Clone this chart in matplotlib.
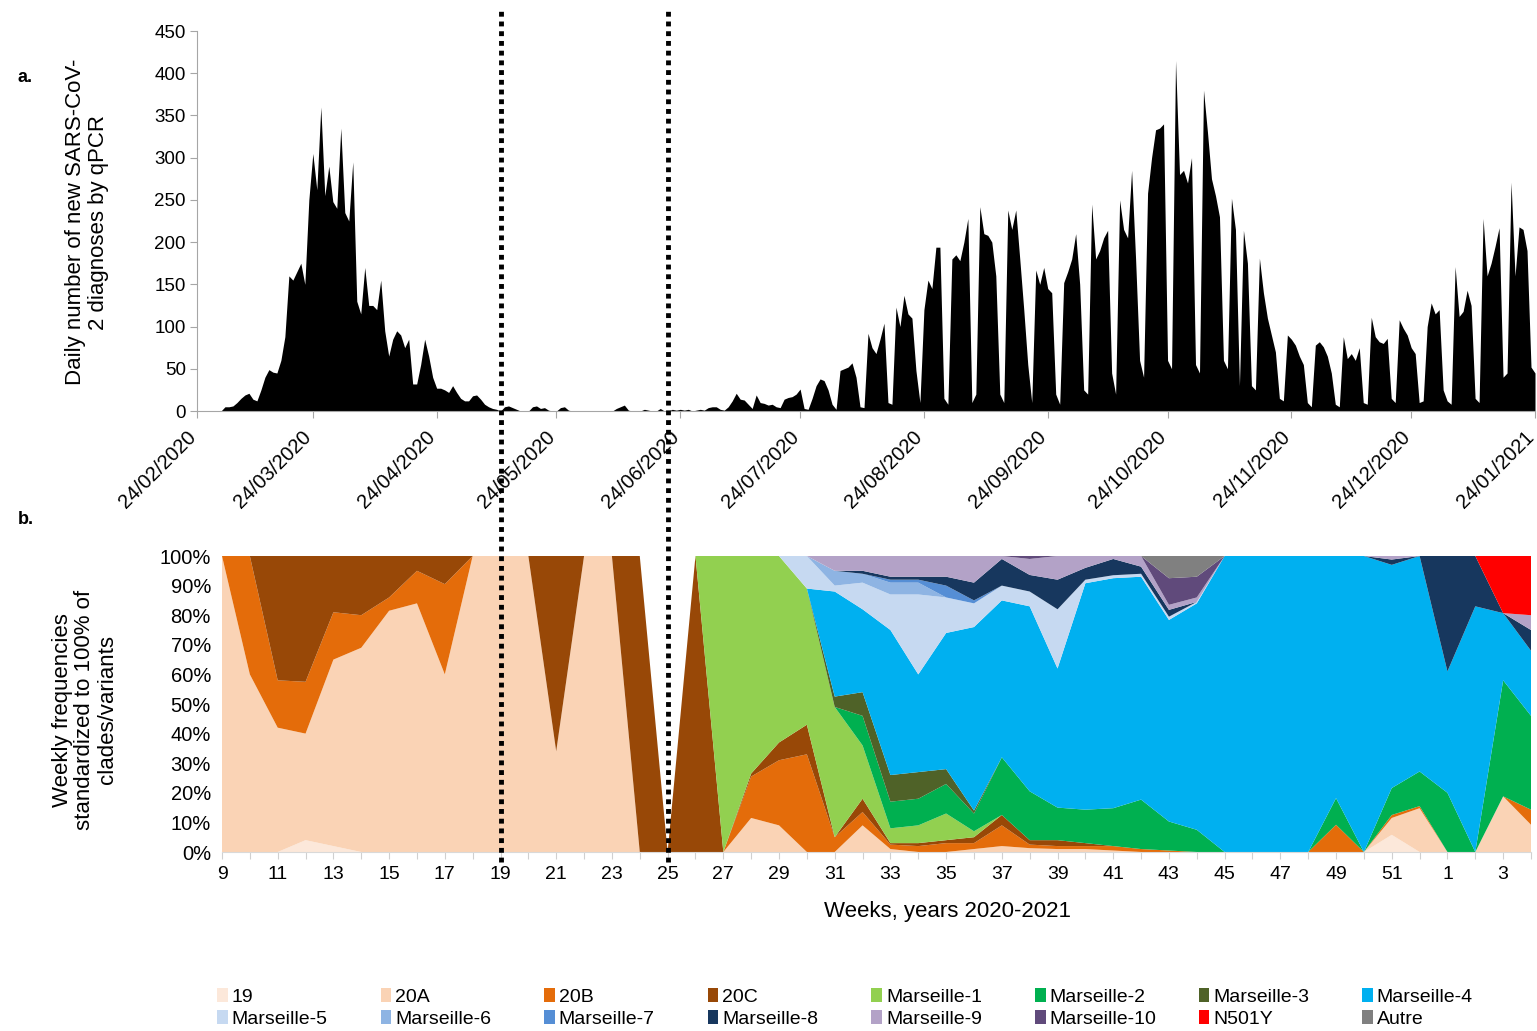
import matplotlib
matplotlib.use("Agg")
import matplotlib.pyplot as plt
import matplotlib.dates as mdates
from matplotlib.patches import Patch
from matplotlib.transforms import ScaledTranslation
import numpy as np
import pandas as pd

plt.rcParams['font.family'] = ['Liberation Sans', 'DejaVu Sans']

# ---- panel a: daily new SARS-CoV-2 diagnoses (one row = one week, Mon..Sun) ----
start_date = '2020-02-24'
daily = [
    0, 0, 0, 0, 0, 0, 0,
    5, 5, 6, 10, 15, 19, 21,
    14, 12, 25, 40, 49, 46, 45,
    60, 88, 160, 155, 165, 175, 150,
    250, 305, 262, 360, 255, 290, 248,
    240, 335, 235, 225, 295, 130, 115,
    170, 125, 125, 120, 155, 95, 65,
    85, 95, 90, 75, 85, 32, 32,
    55, 85, 65, 40, 27, 27, 25,
    22, 30, 22, 15, 12, 12, 18,
    19, 14, 8, 5, 3, 2, 0,
    5, 6, 4, 2, 0, 0, 0,
    5, 6, 3, 4, 1, 0, 0,
    4, 5, 1, 0, 0, 0, 0,
    0, 0, 0, 0, 0, 0, 0,
    3, 5, 7, 1, 0, 0, 0,
    2, 1, 0, 0, 3, 0, 0,
    2, 1, 2, 1, 2, 0, 1,
    2, 1, 4, 5, 5, 2, 1,
    5, 12, 21, 14, 13, 8, 3,
    19, 10, 9, 7, 8, 5, 4,
    14, 16, 17, 20, 26, 3, 2,
    15, 30, 38, 36, 25, 8, 2,
    48, 50, 52, 57, 40, 5, 4,
    92, 75, 68, 85, 104, 10, 8,
    123, 100, 137, 115, 110, 48, 10,
    120, 155, 145, 194, 194, 15, 8,
    180, 185, 178, 200, 228, 10, 20,
    242, 210, 208, 200, 160, 20, 10,
    238, 215, 238, 180, 120, 55, 10,
    167, 150, 170, 145, 140, 20, 8,
    152, 165, 180, 210, 150, 25, 20,
    245, 180, 190, 205, 214, 45, 20,
    250, 215, 205, 285, 180, 60, 40,
    258, 300, 333, 335, 340, 60, 50,
    415, 280, 285, 270, 300, 55, 45,
    380, 330, 275, 255, 230, 60, 50,
    252, 215, 30, 214, 175, 30, 25,
    181, 140, 110, 90, 70, 15, 12,
    90, 85, 78, 65, 55, 10, 5,
    78, 82, 76, 65, 45, 8, 5,
    88, 62, 68, 60, 75, 10, 8,
    111, 88, 82, 80, 86, 15, 10,
    108, 98, 90, 75, 68, 10, 12,
    100, 128, 115, 120, 25, 12, 8,
    171, 112, 118, 143, 125, 15, 10,
    228, 160, 175, 195, 217, 40, 45,
    271, 160, 218, 215, 190, 52, 45,
]
date_ticks = ['2020-02-24', '2020-03-24', '2020-04-24', '2020-05-24', '2020-06-24',
              '2020-07-24', '2020-08-24', '2020-09-24', '2020-10-24', '2020-11-24',
              '2020-12-24', '2021-01-24']

# ---- panel b: weekly clade / variant frequencies (%) ----
weeks = list(range(9, 53)) + [1, 2, 3, 4]
#            9    10   11   12    13  14   15    16  17    18   19   20   21  22   23   24 25 26   27   28    29   30
c19 =     [  0,   0,   0,  4,    2,  0,   0,    0,  0,    0,   0,   0,   0,  0,   0,   0, 0, 0,   0,   0,    0,   0,
             0, 0, 0, 0, 0, 0, 0, 0, 0, 0, 0, 0, 0, 0, 0, 0, 0, 0, 0, 0, 5.8, 0, 0, 0, 0, 0]
c20A =    [100,  60,  42, 36,   63, 69, 81.5, 84, 60,  100, 100, 100,  34, 100, 100, 0, 0, 0,   0, 11.5,  9,   0,
             0, 9, 1, 0, 0, 1, 2, 1.3, 1, 1, 0.5, 0, 0, 0, 0, 0, 0, 0, 0, 0, 5.7, 14.8, 0, 0, 18.8, 9.2]
c20B =    [  0,  40,  16, 17.5, 16, 11, 4.5,  11, 30.5, 0,   0,   0,   0,  0,   0,   0, 0, 0,   0, 14,   22,  33,
             5, 4.5, 1.5, 2, 3, 2, 7, 1.2, 1, 1, 1.5, 1, 0.5, 0, 0, 0, 0, 0, 9.2, 0, 1, 0.7, 0, 0, 0, 5.1]
c20C =    [  0,   0,  42, 42.5, 19, 20, 14,    5,  9.5, 0,   0,   0,  66,  0,   0, 100, 0, 100, 0,  1,    6,  10,
             0, 4.5, 0.5, 1, 1, 2, 3.5, 1.5, 2, 1, 0, 0, 0, 0, 0, 0, 0, 0, 0, 0, 0, 0, 0, 0, 0, 0]
m1 = [0] * 18 + [100, 73.5, 63, 46, 44, 18, 5, 6, 9, 2] + [0] * 20
m2 = [0] * 23 + [10, 9, 9, 10, 6, 19.5, 16.5, 11, 11.3, 12.8, 16.7, 9.8, 7.5,
                 0, 0, 0, 0, 9, 0, 9.1, 11.7, 20, 0, 39.2, 31.7]
m3 = [0] * 22 + [3.5, 8, 9, 9, 5, 1] + [0] * 20
m4 = [0] * 22 + [35.5, 28, 49, 33, 46, 62, 53, 62.5, 47, 76.5, 77.7, 75.3, 68.1, 76.5,
                 100, 100, 100, 100, 81.8, 100, 75.4, 72.8, 41, 83, 22.7, 22]
m5 = [0] * 21 + [11, 2, 9, 12, 27, 12, 8, 5, 5, 20, 1.2, 1, 1, 1.1, 0.5] + [0] * 12
m6 = [0] * 22 + [5, 3, 4, 4] + [0] * 22
m7 = [0] * 24 + [1, 1, 4, 1] + [0] * 20
m8 = [0] * 23 + [1, 1, 1, 3, 6, 9, 5.6, 10, 4, 5.5, 2.4, 2.3, 0,
                 0, 0, 0, 0, 0, 0, 1.8, 0, 39, 17, 0, 7]
m9 = [0] * 22 + [5, 5, 7, 7, 7, 9, 1, 5.4, 8, 4, 1, 3.6, 1.7, 1.5,
                 0, 0, 0, 0, 0, 0, 1.2, 0, 0, 0, 0, 5]
m10 = [0] * 29 + [1, 0, 0, 0, 0, 9, 7] + [0] * 12
n501y = [0] * 46 + [19.3, 20]
autre = [0] * 34 + [7.5, 7] + [0] * 12

series = [c19, c20A, c20B, c20C, m1, m2, m3, m4, m5, m6, m7, m8, m9, m10, n501y, autre]
names = ['19', '20A', '20B', '20C', 'Marseille-1', 'Marseille-2', 'Marseille-3', 'Marseille-4',
         'Marseille-5', 'Marseille-6', 'Marseille-7', 'Marseille-8', 'Marseille-9', 'Marseille-10',
         'N501Y', 'Autre']
colors = ['#FCE8DA', '#FAD3B5', '#E46C0A', '#984807', '#92D050', '#00B050', '#4F6228', '#00B0F0',
          '#C6D9F1', '#8EB4E3', '#558ED5', '#17375E', '#B3A2C7', '#604A7B', '#FF0000', '#808080']

W, H = 1537, 1031


def box(l, t, r, b):
    return [l / W, 1 - b / H, (r - l) / W, (b - t) / H]


fig = plt.figure(figsize=(W / 100, H / 100), dpi=100)
axis_grey = '#A6A6A6'

# panel a
ax1 = fig.add_axes(box(197, 31, 1535, 411))
dates = pd.date_range(start_date, periods=len(daily), freq='D')
ax1.fill_between(dates, daily, 0, color='black', lw=0)
ax1.set_xlim(dates[0], dates[-1])
ax1.set_ylim(0, 450)
ax1.set_yticks(np.arange(0, 451, 50))
ax1.set_xticks(pd.to_datetime(date_ticks))
ax1.xaxis.set_major_formatter(mdates.DateFormatter('%d/%m/%Y'))
ax1.tick_params(axis='x', labelsize=14.5, length=5, color=axis_grey, pad=7)
ax1.tick_params(axis='y', labelsize=13.5, length=5, color=axis_grey, pad=3)
shift = ScaledTranslation(-0.11, 0, fig.dpi_scale_trans)
for lab in ax1.get_xticklabels():
    lab.set_rotation(45)
    lab.set_ha('right')
    lab.set_rotation_mode('anchor')
    lab.set_transform(lab.get_transform() + shift)
for s in ['top', 'right']:
    ax1.spines[s].set_visible(False)
for s in ['left', 'bottom']:
    ax1.spines[s].set_color(axis_grey)
ax1.set_facecolor('none')

# panel b
ax2 = fig.add_axes(box(222, 556, 1531, 852))
x = np.arange(len(weeks))
ax2.stackplot(x, *series, colors=colors, labels=names, lw=0)
ax2.set_xlim(0, len(weeks) - 1)
ax2.set_ylim(0, 100)
ax2.set_yticks(np.arange(0, 101, 10))
ax2.set_yticklabels([f'{v}%' for v in range(0, 101, 10)])
ax2.set_xticks(x)
ax2.set_xticklabels([str(w) if i % 2 == 0 else '' for i, w in enumerate(weeks)])
ax2.tick_params(axis='x', labelsize=14, length=5, color='#D0D0D0', pad=5)
ax2.tick_params(axis='y', labelsize=14.5, length=0, pad=8)
for s in ['top', 'right', 'left']:
    ax2.spines[s].set_visible(False)
ax2.spines['bottom'].set_color('#D9D9D9')

# dotted separators at weeks 19 and 25, through both panels
for wk in [19, 25]:
    ax2.axvline(weeks.index(wk), ymin=-0.035, ymax=2.845, color='black', lw=3.5,
                ls=(0, (1, 1)), clip_on=False, zorder=10)

fig.text(947 / W, 1 - 912 / H, 'Weeks, years 2020-2021', ha='center', va='center', fontsize=16)
fig.text(87 / W, 1 - 222 / H, 'Daily number of new SARS-CoV-\n2 diagnoses by qPCR',
         rotation=90, ha='center', va='center', fontsize=16, linespacing=1.12)
fig.text(85 / W, 1 - 710 / H, 'Weekly frequencies\nstandardized to 100% of\nclades/variants',
         rotation=90, ha='center', va='center', fontsize=16, linespacing=1.12)
fig.text(18 / W, 1 - 78 / H, 'a.', fontsize=13, fontweight='bold', va='center')
fig.text(18 / W, 1 - 520 / H, 'b.', fontsize=13, fontweight='bold', va='center')

# legend: 8 columns x 2 rows
handles = [Patch(facecolor=c, edgecolor='none') for c in colors]
for i in range(8):
    fig.legend([handles[i], handles[i + 8]], [names[i], names[i + 8]],
               loc='upper left', bbox_to_anchor=((217 + 163.6 * i) / W, 1 - 988 / H),
               frameon=False, fontsize=14, handlelength=0.55, handleheight=0.7,
               handletextpad=0.2, labelspacing=0.22, borderpad=0, borderaxespad=0)

fig.savefig('out.png', dpi=100)
